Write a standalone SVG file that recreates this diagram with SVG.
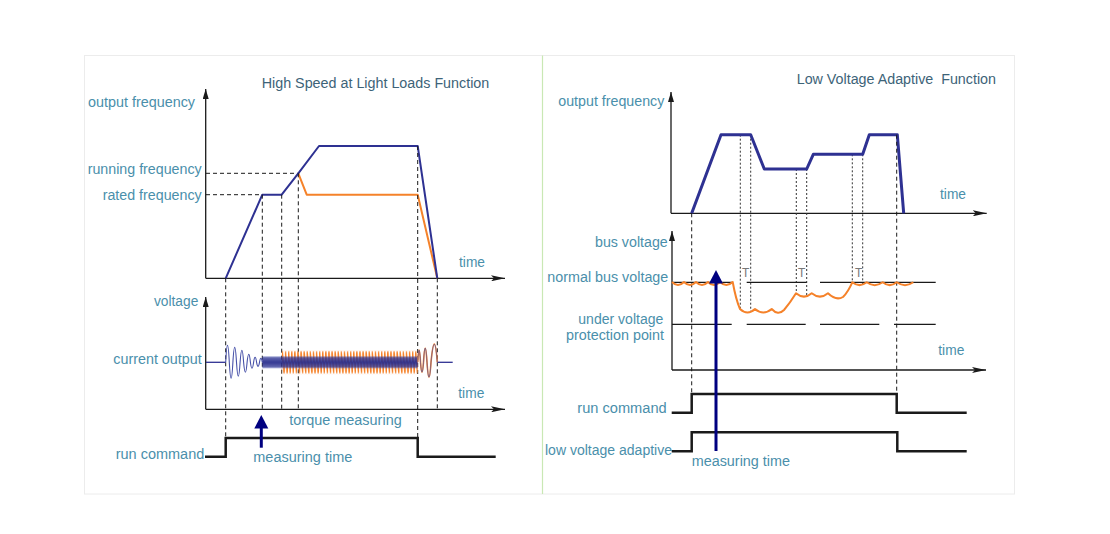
<svg xmlns="http://www.w3.org/2000/svg" width="1110" height="534" viewBox="0 0 1110 534">
<style>
.lbl{font-family:"Liberation Sans",Arial,sans-serif;font-size:14px;fill:#4a8fab}
.ttl{font-family:"Liberation Sans",Arial,sans-serif;font-size:14px;fill:#3d6378}
.tt{font-family:"Liberation Sans",Arial,sans-serif;font-size:12px;fill:#777}
.ax{stroke:#1a1a1a;stroke-width:1.3;fill:none}
.dash{stroke:#1a1a1a;stroke-width:1;stroke-dasharray:4 3;fill:none}
.dot{stroke:#333;stroke-width:1;stroke-dasharray:2 2;fill:none}
.blue{stroke:#2e3192;stroke-width:2;fill:none;stroke-linejoin:round}
.blue3{stroke:#2e3192;stroke-width:3;fill:none;stroke-linejoin:round}
.orange{stroke:#f5822a;stroke-width:2;fill:none;stroke-linejoin:round}
.sig{stroke:#1a1a1a;stroke-width:2.5;fill:none}
.lvl{stroke:#1a1a1a;stroke-width:1.2;fill:none}
.arr{fill:#000080}
</style>
<defs>
<marker id="ya" markerWidth="6" markerHeight="10" refX="3" refY="0" orient="0" markerUnits="userSpaceOnUse" viewBox="0 0 6 10">
<path d="M0,10 L3,0 L6,10 Z" fill="#1a1a1a"/>
</marker>
<marker id="xa" markerWidth="14" markerHeight="6" refX="14" refY="3" orient="0" markerUnits="userSpaceOnUse" viewBox="0 0 14 6">
<path d="M0,0 L14,3 L0,6 L3,3 Z" fill="#1a1a1a"/>
</marker>
<pattern id="bw" patternUnits="userSpaceOnUse" x="262.3" y="356.3" width="1.6" height="12">
<rect width="1.6" height="12" fill="#3a45a5" opacity="0.55"/>
<path d="M0,1 L0.8,11 L1.6,1" stroke="#23288a" stroke-width="0.9" fill="none"/>
</pattern>
<pattern id="ow" patternUnits="userSpaceOnUse" x="281.7" y="350.3" width="3.1" height="24">
<path d="M0,12 Q0.775,-10.5 1.55,12 Q2.325,34.5 3.1,12" stroke="#f5822a" stroke-width="1.2" fill="none"/>
</pattern>
</defs>
<rect width="1110" height="534" fill="#ffffff"/>
<rect x="84.5" y="55.5" width="930" height="438.5" fill="none" stroke="#ececec" stroke-width="1"/>
<line x1="542.5" y1="55.5" x2="542.5" y2="494" stroke="#c9e8b4" stroke-width="1.2"/>

<g id="left-panel">
<text class="ttl" x="261.7" y="88" textLength="227.6" lengthAdjust="spacingAndGlyphs">High Speed at Light Loads Function</text>
<g id="left-freq-chart">
<line class="ax" x1="205.7" y1="278.3" x2="205.7" y2="89" marker-end="url(#ya)"/>
<line class="ax" x1="205.7" y1="278.3" x2="505" y2="278.3" marker-end="url(#xa)"/>
<text class="lbl" x="88" y="107" textLength="107" lengthAdjust="spacingAndGlyphs">output frequency</text>
<text class="lbl" x="201.7" y="174" text-anchor="end" textLength="114" lengthAdjust="spacingAndGlyphs">running frequency</text>
<text class="lbl" x="201.7" y="200" text-anchor="end" textLength="99" lengthAdjust="spacingAndGlyphs">rated frequency</text>
<text class="lbl" x="459" y="266.5" textLength="26" lengthAdjust="spacingAndGlyphs">time</text>
<path class="dash" d="M206,173.3 H298.3 M206,194.7 H262.3"/>
<path class="orange" d="M298.3,173.3 L306.7,194.7 L417.7,194.7 L437.3,278.3"/>
<path class="blue" d="M225.7,278.3 L262.3,194.7 L281.7,194.7 L298.3,173.3 L319,146 L417.7,146 L437.3,278.3"/>
</g>
<g id="left-dashes">
<path class="dash" d="M225.7,278.3 V438 M262.3,194.7 V409.3 M281.7,194.7 V409.3 M298.3,173.3 V409.3 M417.7,146 V438 M437.3,278.3 V409.3"/>
</g>
<g id="left-voltage-chart">
<line class="ax" x1="205.7" y1="409.3" x2="205.7" y2="297" marker-end="url(#ya)"/>
<line class="ax" x1="205.7" y1="409.3" x2="505" y2="409.3" marker-end="url(#xa)"/>
<text class="lbl" x="154" y="305.5" textLength="44.3" lengthAdjust="spacingAndGlyphs">voltage</text>
<text class="lbl" x="201.7" y="364" text-anchor="end" textLength="88.4" lengthAdjust="spacingAndGlyphs">current output</text>
<text class="lbl" x="458.3" y="398" textLength="26" lengthAdjust="spacingAndGlyphs">time</text>
<line x1="206" y1="362.3" x2="225.7" y2="362.3" stroke="#2e3192" stroke-width="1.3"/>
<line x1="437.3" y1="362.3" x2="452.7" y2="362.3" stroke="#2e3192" stroke-width="1.3"/>
<path d="M225.7,362.3 Q227.5,328.3 229.3,362.3 Q231.1,394.3 232.9,362.3 Q234.7,332.3 236.5,362.3 Q238.3,390.3 240.1,362.3 Q241.9,338.3 243.6,362.3 Q245.4,382.3 247.1,362.3 Q248.8,346.3 250.4,362.3 Q252,374.3 253.6,362.3 Q255.1,352.3 256.6,362.3 Q258,370.3 259.5,362.3 Q260.9,354.3 262.3,362.3" stroke="#4650a8" stroke-width="1.1" fill="none"/>
<rect x="281.7" y="350.3" width="136" height="24" fill="url(#ow)"/>
<rect x="262.3" y="356.3" width="155.4" height="12" fill="url(#bw)" opacity="0.9"/>
<path d="M417.7,362.3 Q419.1,338 420.5,362.3 Q422,382 423.5,362.3 Q425.2,334 427,362.3 Q429,392 431,362.3 Q434.5,326 437.3,362.3" stroke="#f5822a" stroke-width="1.6" fill="none"/>
<path d="M417.7,362.3 Q419.1,338 420.5,362.3 Q422,382 423.5,362.3 Q425.2,334 427,362.3 Q429,392 431,362.3 Q434.5,326 437.3,362.3" stroke="#4650a8" stroke-width="0.9" fill="none" opacity="0.7"/>
<text class="lbl" x="289.3" y="425" textLength="112.4" lengthAdjust="spacingAndGlyphs">torque measuring</text>
</g>
<g id="left-run-command">
<text class="lbl" x="204.3" y="459" text-anchor="end" textLength="88.6" lengthAdjust="spacingAndGlyphs">run command</text>
<path class="sig" d="M205,456.7 H225.7 V438 H417.7 V456.7 H495.7"/>
</g>
<g id="left-measuring-arrow">
<line x1="261.3" y1="426" x2="261.3" y2="447.7" stroke="#000080" stroke-width="3"/>
<path class="arr" d="M261.3,415 L268.3,428.5 L254.3,428.5 Z"/>
<text class="lbl" x="253.3" y="461.5" textLength="99" lengthAdjust="spacingAndGlyphs">measuring time</text>
</g>
</g>

<g id="right-panel">
<text class="ttl" x="796.7" y="84" textLength="199.3" lengthAdjust="spacingAndGlyphs">Low Voltage Adaptive&#160; Function</text>
<g id="right-freq-chart">
<line class="ax" x1="671" y1="213.3" x2="671" y2="92" marker-end="url(#ya)"/>
<line class="ax" x1="671" y1="213.3" x2="986.7" y2="213.3" marker-end="url(#xa)"/>
<text class="lbl" x="558.3" y="105.5" textLength="106" lengthAdjust="spacingAndGlyphs">output frequency</text>
<text class="lbl" x="940" y="199" textLength="26" lengthAdjust="spacingAndGlyphs">time</text>
<path class="dot" d="M740.3,134.7 V310 M750.7,134.7 V311 M796.3,169 V294 M806.7,169 V297 M852.3,154.3 V283 M862.7,154.3 V286"/>
<path class="blue3" d="M691.7,213.3 L721,134.7 L750.7,134.7 L764.3,169 L806.7,169 L813.3,154.3 L862.7,154.3 L869.3,134.7 L897.3,134.7 L903.7,213.3"/>
</g>
<g id="right-dashes">
<path class="dash" d="M691.7,213.3 V394 M896.7,134.7 V394"/>
</g>
<g id="right-bus-chart">
<line class="ax" x1="672" y1="370" x2="672" y2="231" marker-end="url(#ya)"/>
<line class="ax" x1="672" y1="370" x2="986" y2="370" marker-end="url(#xa)"/>
<text class="lbl" x="667.7" y="246.5" text-anchor="end" textLength="72.7" lengthAdjust="spacingAndGlyphs">bus voltage</text>
<text class="lbl" x="668.3" y="282" text-anchor="end" textLength="121" lengthAdjust="spacingAndGlyphs">normal bus voltage</text>
<text class="lbl" x="663.3" y="323.5" text-anchor="end" textLength="85" lengthAdjust="spacingAndGlyphs">under voltage</text>
<text class="lbl" x="664" y="340" text-anchor="end" textLength="98" lengthAdjust="spacingAndGlyphs">protection point</text>
<text class="lbl" x="938.3" y="355" textLength="26" lengthAdjust="spacingAndGlyphs">time</text>
<path class="lvl" d="M672,282.3 H732.7 M746.7,282.3 H806.7 M820,282.3 H935.7"/>
<path class="lvl" d="M672,324.3 H731.7 M746.7,324.3 H805.7 M820,324.3 H879.3 M894,324.3 H935.7"/>
<text class="tt" x="742" y="277">T</text>
<text class="tt" x="798" y="277">T</text>
<text class="tt" x="855" y="277">T</text>
<path class="orange" d="M672,282 Q678,288 684,282 Q690,288 696,282 Q702,288 708,282 Q714,288 720,282 Q726.3,288 732.7,282 Q736,300 740,309 Q747.5,316 755,309 Q763.3,316 771.7,309 Q778,316 784,310 Q790,303 796,293.3 Q804,300 811.7,293.3 Q820,300 828,293.3 Q836,301 843,297 Q848,292 852.3,282.3 Q859.5,288 866.7,282.3 Q874.7,288 882.7,282.3 Q889.7,288 896.7,282.3 Q905,288 913.3,282.3"/>
</g>
<g id="right-run-command">
<text class="lbl" x="666.7" y="413" text-anchor="end" textLength="89.4" lengthAdjust="spacingAndGlyphs">run command</text>
<path class="sig" d="M671.7,412.7 H691.7 V394 H896.7 V412.7 H966.7"/>
</g>
<g id="right-low-voltage-adaptive">
<text class="lbl" x="545" y="455" textLength="127" lengthAdjust="spacingAndGlyphs">low voltage adaptive</text>
<path class="sig" d="M671.7,451.3 H691.7 V432.3 H897.3 V451.3 H966.7"/>
</g>
<g id="right-measuring-arrow">
<line x1="716" y1="282" x2="716" y2="451" stroke="#000080" stroke-width="3"/>
<path class="arr" d="M716,270 L723,283.6 L709,283.6 Z"/>
<text class="lbl" x="691.7" y="465.5" textLength="98.3" lengthAdjust="spacingAndGlyphs">measuring time</text>
</g>
</g>
</svg>
